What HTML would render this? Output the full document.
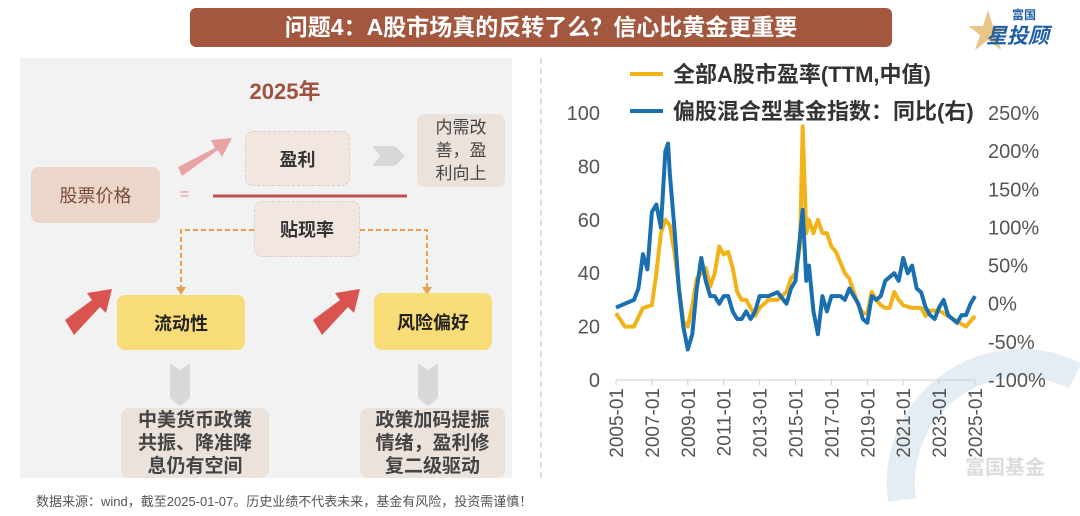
<!DOCTYPE html>
<html style="width:1080px;height:516px;overflow:hidden"><head><meta charset="utf-8">
<style>
body{margin:0;width:1080px;height:516px;background:#fff;font-family:"Liberation Sans","Noto Sans CJK SC",sans-serif;overflow:hidden;position:relative}
.abs{position:absolute}
.box{position:absolute;display:flex;align-items:center;justify-content:center;text-align:center;border-radius:8px;box-sizing:border-box;overflow:hidden}
</style></head><body>
<div class="abs" style="left:190px;top:8px;width:702px;height:39px;background:#a3573f;border-radius:6px;color:#fff;font-weight:bold;font-size:23px;line-height:39px;text-align:center">问题4：A股市场真的反转了么？信心比黄金更重要</div>
<div class="abs" style="left:968px;top:6px;width:100px;height:44px">
 <svg width="100" height="44"><polygon points="20,4 25,20 40,20 28,29 33,44 20,34 7,44 12,29 0,20 15,20" fill="#e2b867" opacity="0.8"/></svg>
 <div class="abs" style="left:44px;top:0;font-size:12px;color:#1f5fa8;font-weight:bold">富国</div>
 <div class="abs" style="left:18px;top:14px;font-size:21px;color:#1f5fa8;font-weight:bold;font-style:italic">星投顾</div>
</div>

<div class="abs" style="left:20px;top:58px;width:492px;height:420px;background:#f2f2f2;overflow:hidden"></div>
<div class="abs" style="left:230px;top:74px;width:110px;text-align:center;font-size:22px;font-weight:bold;color:#a0523d">2025年</div>
<svg class="abs" style="left:0;top:0" width="540" height="516">
 <line x1="213" y1="196" x2="407" y2="196" stroke="#c0504d" stroke-width="3"/>
 <polygon points="178,167 215,148 211,140 232,138 222,157 218,150 182,176" fill="#e8a3a3"/>
 <polygon points="372,146 395,146 405,156 395,166 372,166 380,156" fill="#d8d8d8"/>
 <path d="M254,230 H181 V290" fill="none" stroke="#e8a050" stroke-width="2" stroke-dasharray="5,3"/>
 <path d="M360,230 H427 V290" fill="none" stroke="#e8a050" stroke-width="2" stroke-dasharray="5,3"/>
 <polygon points="176,287 186,287 181,295" fill="#e8a050"/>
 <polygon points="422,287 432,287 427,295" fill="#e8a050"/>
 <polygon points="65,320 92,300 87,293 112,289 106,313 100,307 74,335" fill="#d9534f"/>
 <polygon points="313,320 340,300 335,293 360,289 354,313 348,307 322,335" fill="#d9534f"/>
 <polygon points="170,363 180,370 190,363 190,398 180,406 170,398" fill="#d8d8d8"/>
 <polygon points="418,363 428,370 438,363 438,398 428,406 418,398" fill="#d8d8d8"/>
 <text x="180" y="199" font-size="16" fill="#e39a9a" font-family="Liberation Sans">=</text>
</svg>
<div class="box" style="left:31px;top:167px;width:129px;height:56px;background:#ecd5c9;color:#7a4a3a;font-size:18px">股票价格</div>
<div class="box" style="left:245px;top:131px;width:105px;height:55px;background:#f2e6e0;border:1px dashed #e0cfc5;color:#333;font-size:18px;font-weight:bold">盈利</div>
<div class="box" style="left:417px;top:114px;width:88px;height:73px;background:#ebe2dc;color:#444;font-size:17px;line-height:23px">内需改<br>善，盈<br>利向上</div>
<div class="box" style="left:254px;top:201px;width:106px;height:56px;background:#f2e6e0;border:1px dashed #e0cfc5;color:#333;font-size:18px;font-weight:bold">贴现率</div>
<div class="box" style="left:117px;top:295px;width:128px;height:55px;background:#f8dc77;color:#222;font-size:18px;font-weight:bold">流动性</div>
<div class="box" style="left:374px;top:293px;width:118px;height:57px;background:#f8dc77;color:#222;font-size:18px;font-weight:bold">风险偏好</div>
<div class="box" style="left:121px;top:408px;width:148px;height:70px;background:#ebe2dc;color:#444;font-size:19px;line-height:23px;font-weight:bold;align-items:flex-start;padding-top:1px">中美货币政策<br>共振、降准降<br>息仍有空间</div>
<div class="box" style="left:360px;top:408px;width:145px;height:70px;background:#ebe2dc;color:#444;font-size:19px;line-height:23px;font-weight:bold;align-items:flex-start;padding-top:1px">政策加码提振<br>情绪，盈利修<br>复二级驱动</div>
<div class="abs" style="left:36px;top:491px;font-size:13px;color:#555">数据来源：wind，截至2025-01-07。历史业绩不代表未来，基金有风险，投资需谨慎！</div>
<div class="abs" style="left:540px;top:58px;height:420px;border-left:2px dashed #ddd"></div>

<svg class="abs" id="chart" style="left:0;top:0" width="1080" height="516"></svg>
<script>
const peX=[2005,2005.5,2006,2006.5,2007,2007.25,2007.5,2007.75,2008,2008.25,2008.5,2008.75,2009,2009.25,2009.5,2009.75,2010,2010.25,2010.5,2010.75,2011,2011.25,2011.5,2011.75,2012,2012.25,2012.5,2012.75,2013,2013.5,2014,2014.5,2014.75,2015,2015.25,2015.4,2015.6,2015.75,2016,2016.25,2016.5,2016.75,2017,2017.25,2017.5,2017.75,2018,2018.25,2018.5,2018.75,2019,2019.25,2019.5,2019.75,2020,2020.25,2020.5,2020.75,2021,2021.5,2022,2022.25,2022.5,2023,2023.5,2024,2024.5,2024.75,2025];
const peValues=[25,20,20,27,28,40,55,60,58,48,35,22,20,28,38,40,42,35,40,50,47,48,42,33,30,30,27,24,27,30,30,33,38,40,50,95,55,60,55,60,55,55,50,48,44,40,38,33,28,25,25,33,30,28,27,27,33,30,28,27,27,24,26,26,24,22,20,22,24];
const fundX=[2005,2005.5,2006,2006.25,2006.5,2006.75,2007,2007.25,2007.5,2007.75,2007.9,2008,2008.25,2008.5,2008.75,2009,2009.25,2009.5,2009.75,2010,2010.25,2010.5,2010.75,2011,2011.25,2011.5,2011.75,2012,2012.25,2012.5,2012.75,2013,2013.5,2014,2014.5,2014.75,2015,2015.4,2015.6,2015.75,2016,2016.25,2016.5,2016.75,2017,2017.5,2017.75,2018,2018.5,2018.75,2019,2019.25,2019.5,2019.75,2020,2020.5,2020.75,2021,2021.25,2021.5,2021.75,2022,2022.25,2022.5,2022.75,2023,2023.25,2023.5,2023.75,2024,2024.25,2024.5,2024.75,2025];
const fundValues=[-5,0,5,20,65,45,120,130,100,200,210,170,100,20,-30,-60,-40,20,60,30,10,10,0,10,10,-10,-20,-20,-10,-20,-10,10,10,15,0,20,30,123,30,50,-10,-40,10,-10,10,10,5,20,0,-20,-25,10,5,10,30,40,30,60,40,50,20,15,-5,-15,-20,-5,5,-15,-20,-25,-15,-15,0,10];
const leftTicks=[0,20,40,60,80,100];
const rightTicks=[-100,-50,0,50,100,150,200,250];
const xTicks=["2005-01","2007-01","2009-01","2011-01","2013-01","2015-01","2017-01","2019-01","2021-01","2023-01","2025-01"];
const X0=616,X1=975,YB=380,YT=113;
const xs=t=>X0+(t-2005)/20*(X1-X0);
const yl=v=>YB-v/100*(YB-YT);
const yr=v=>YB-(v+100)/350*(YB-YT);
const svg=document.getElementById('chart');const NS='http://www.w3.org/2000/svg';
function mk(tag,attrs,txt){const e=document.createElementNS(NS,tag);for(const k in attrs)e.setAttribute(k,attrs[k]);if(txt!=null)e.textContent=txt;svg.appendChild(e);return e;}
const wm=mk('path',{d:'M902,500 A120,120 0 0 1 1075,376',fill:'none',stroke:'#e4ecf4','stroke-width':28});


const wt=mk('text',{x:965,y:474,'font-size':20,fill:'#dcdcdc','font-weight':'bold'},'富国基金');


const ax=mk('line',{x1:X0,y1:YB,x2:X1,y2:YB,stroke:'#ccc','stroke-width':1});


leftTicks.forEach(v=>{const t=mk('text',{x:600,y:yl(v)+7,'font-size':20,fill:'#555','text-anchor':'end'},v);

});
rightTicks.forEach(v=>{const t=mk('text',{x:988,y:yr(v)+7,'font-size':20,fill:'#555'},v+'%');

});
xTicks.forEach((s,i)=>{const x=xs(2005+2*i);const l=mk('line',{x1:x,y1:YB,x2:x,y2:YB+5,stroke:'#ccc'});


const t=mk('text',{x:0,y:0,'font-size':19,fill:'#555','text-anchor':'end',transform:`translate(${x+7},${YB+8}) rotate(-90)`},s);

});
const pPE=mk('path',{d:peX.map((t,i)=>(i?'L':'M')+xs(t)+','+yl(peValues[i])).join(''),fill:'none',stroke:'#f2b318','stroke-width':4,'stroke-linejoin':'round'});


const pF=mk('path',{d:fundX.map((t,i)=>(i?'L':'M')+xs(t)+','+yr(fundValues[i])).join(''),fill:'none',stroke:'#1a6fb0','stroke-width':4,'stroke-linejoin':'round'});


const l1=mk('line',{x1:630,y1:74,x2:663,y2:74,stroke:'#f2b318','stroke-width':4});


const t1=mk('text',{x:673,y:82,'font-size':22,'font-weight':'bold',fill:'#333'},'全部A股市盈率(TTM,中值)');


const l2=mk('line',{x1:630,y1:111,x2:663,y2:111,stroke:'#1a6fb0','stroke-width':4});


const t2=mk('text',{x:673,y:119,'font-size':22,'font-weight':'bold',fill:'#333'},'偏股混合型基金指数：同比(右)');


</script>
</body></html>
